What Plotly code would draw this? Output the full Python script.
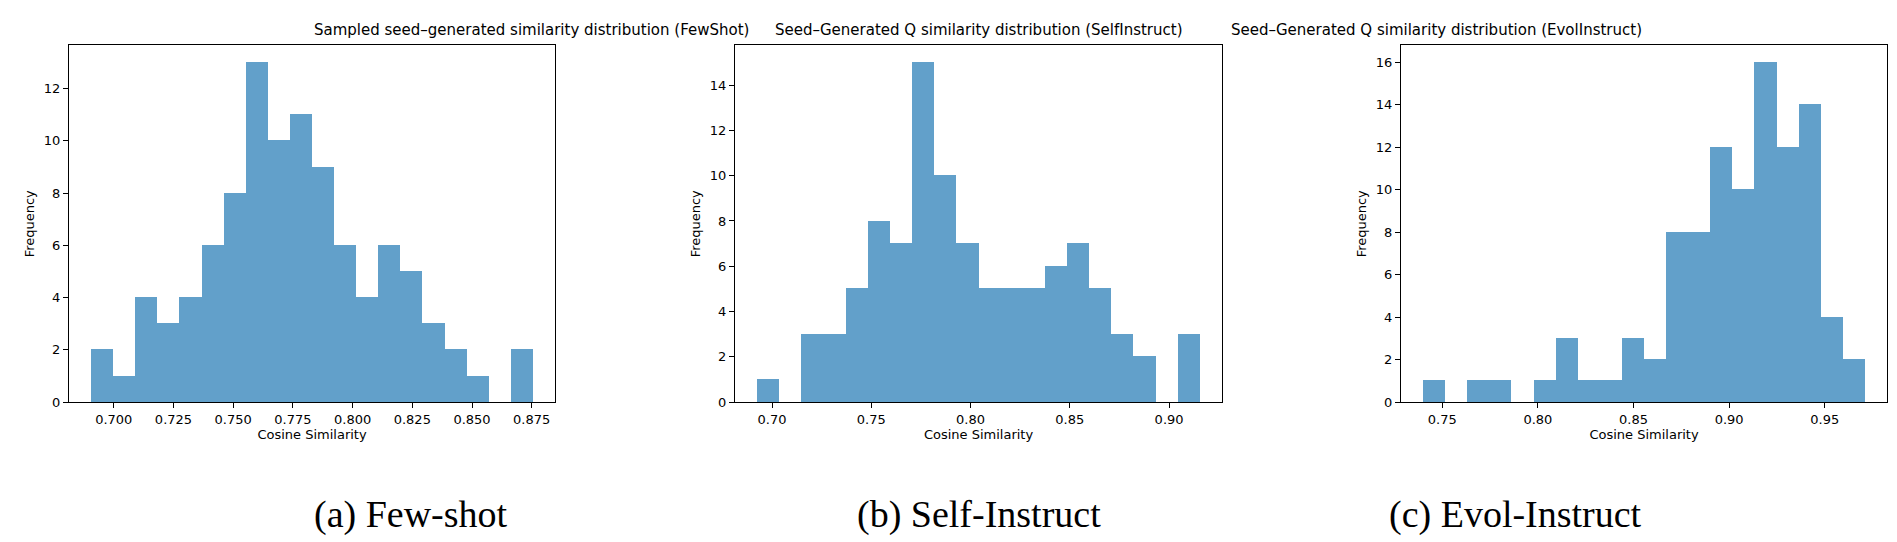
import plotly.graph_objects as go
import numpy as np

# histogram counts (20 bins each) and bin range
fewshot_counts = [2, 1, 4, 3, 4, 6, 8, 13, 10, 11, 9, 6, 4, 6, 5, 3, 2, 1, 0, 2]
fewshot_range = [0.6905, 0.8755]
selfinst_counts = [1, 0, 3, 3, 5, 8, 7, 15, 10, 7, 5, 5, 5, 6, 7, 5, 3, 2, 0, 3]
selfinst_range = [0.6925, 0.9155]
evol_counts = [1, 0, 1, 1, 0, 1, 3, 1, 1, 3, 2, 8, 8, 12, 10, 16, 12, 14, 4, 2]
evol_range = [0.7400, 0.9710]

titles = ["Sampled seed\u2013generated similarity distribution (FewShot)",
          "Seed\u2013Generated Q similarity distribution (SelfInstruct)",
          "Seed\u2013Generated Q similarity distribution (EvolInstruct)"]
captions = ["(a) Few-shot", "(b) Self-Instruct", "(c) Evol-Instruct"]
xticks = [[0.700, 0.725, 0.750, 0.775, 0.800, 0.825, 0.850, 0.875],
          [0.70, 0.75, 0.80, 0.85, 0.90],
          [0.75, 0.80, 0.85, 0.90, 0.95]]
xfmt = [".3f", ".2f", ".2f"]

W, H = 1897, 542
panels = [(61, 547), (727, 1214), (1393, 1879)]
top, bottom = 38, 400

fig = go.Figure()
layout = dict(width=W, height=H, margin=dict(l=0, r=0, t=0, b=0),
              paper_bgcolor="white", plot_bgcolor="white", showlegend=False,
              font=dict(family="DejaVu Sans", color="black", size=13),
              bargap=0)
annotations = []
data = [(fewshot_counts, fewshot_range), (selfinst_counts, selfinst_range), (evol_counts, evol_range)]
for i, (counts, rng) in enumerate(data):
    edges = np.linspace(rng[0], rng[1], len(counts) + 1)
    centers = (edges[:-1] + edges[1:]) / 2
    width = edges[1] - edges[0]
    n = "" if i == 0 else str(i + 1)
    fig.add_trace(go.Bar(x=centers, y=counts, width=width,
                         marker=dict(color="rgba(31,119,180,0.7)", line=dict(width=0)),
                         xaxis="x" + n, yaxis="y" + n))
    span = rng[1] - rng[0]
    x0, x1 = panels[i]
    common = dict(showline=True, linecolor="black", linewidth=1, mirror=True,
                  ticks="outside", ticklen=5, tickcolor="black", showgrid=False,
                  zeroline=False, tickfont=dict(size=13))
    layout["xaxis" + n] = dict(common, domain=[x0 / W, x1 / W], anchor="y" + n,
                              range=[rng[0] - 0.05 * span, rng[1] + 0.05 * span],
                              tickvals=xticks[i], tickformat=xfmt[i],
                              title=dict(text="Cosine Similarity", font=dict(size=13), standoff=4))
    layout["yaxis" + n] = dict(common, domain=[1 - bottom / H, 1 - top / H], anchor="x" + n,
                              range=[0, max(counts) * 1.05], dtick=2,
                              title=dict(text="Frequency", font=dict(size=13), standoff=6))
    xm = (x0 + x1) / 2 / W
    annotations.append(dict(text=titles[i], x=xm, y=1 - 22 / H, xref="paper", yref="paper",
                            showarrow=False, font=dict(size=15), yanchor="middle"))
    annotations.append(dict(text=captions[i], x=xm, y=1 - 514 / H, xref="paper", yref="paper",
                            showarrow=False, font=dict(family="Liberation Serif", size=38),
                            yanchor="middle"))
layout["annotations"] = annotations
fig.update_layout(**layout)
fig.write_html("out.html")
